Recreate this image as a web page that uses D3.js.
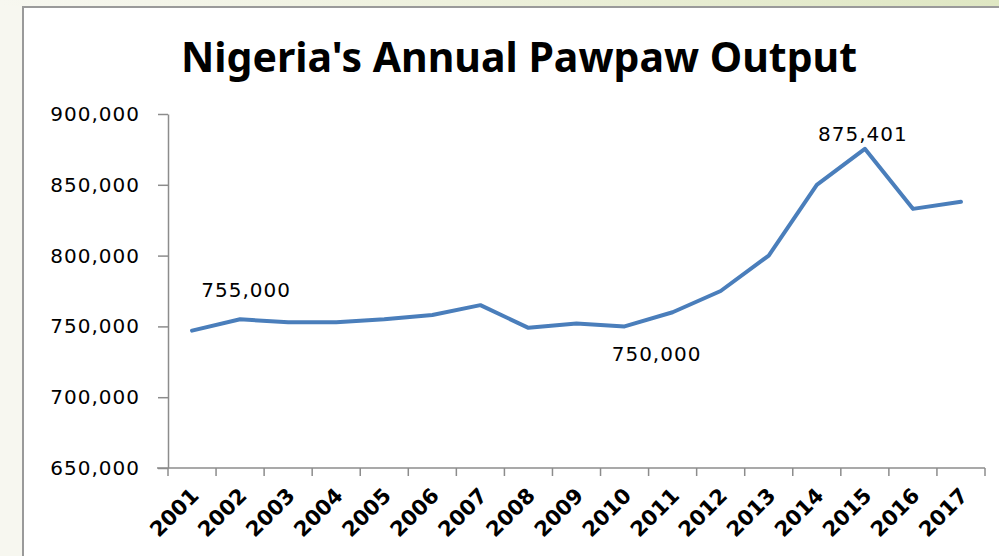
<!DOCTYPE html>
<html>
<head>
<meta charset="utf-8">
<script src="https://cdn.jsdelivr.net/npm/d3@7"></script>
<style>
  html, body { margin: 0; padding: 0; background: #f7f7f0; }
  svg { display: block; }
</style>
</head>
<body>
<svg id="chart" width="999" height="556"></svg>
<script>
'use strict';

var years = ['2001', '2002', '2003', '2004', '2005', '2006', '2007', '2008', '2009',
  '2010', '2011', '2012', '2013', '2014', '2015', '2016', '2017'];
var output = [747000, 755000, 753000, 753000, 755000, 758000, 765000, 749000, 752000,
  750000, 760000, 775000, 800000, 850000, 875401, 833000, 838000];
var yTicks = [650000, 700000, 750000, 800000, 850000, 900000];
var labelledYears = ['2002', '2010', '2015'];
var title = "Nigeria's Annual Pawpaw Output";

var W = 999, H = 556;
var svg = d3.select('#chart');

// page background + framed white chart area
var defs = svg.append('defs');
var grad = defs.append('linearGradient').attr('id', 'topStrip');
grad.append('stop').attr('offset', '0%').attr('stop-color', '#f7f7f0');
grad.append('stop').attr('offset', '45%').attr('stop-color', '#eef1dd');
grad.append('stop').attr('offset', '100%').attr('stop-color', '#dfe7c3');

svg.append('rect').attr('width', W).attr('height', H).attr('fill', '#f7f7f0');
svg.append('rect').attr('width', W).attr('height', 6).attr('fill', 'url(#topStrip)');
svg.append('rect')
  .attr('x', 22).attr('y', 6)
  .attr('width', W - 22).attr('height', H - 6)
  .attr('fill', '#ffffff');
svg.append('path')
  .attr('d', 'M23,' + H + 'V7H' + W)
  .attr('fill', 'none')
  .attr('stroke', '#9a9a9a')
  .attr('stroke-width', 2);

svg.append('text')
  .attr('x', 519).attr('y', 72)
  .attr('text-anchor', 'middle')
  .attr('font-family', '"Noto Sans", "Open Sans", sans-serif')
  .attr('font-weight', 'bold')
  .attr('font-size', 41)
  .attr('textLength', 676)
  .attr('lengthAdjust', 'spacingAndGlyphs')
  .attr('fill', '#000')
  .text(title);

var x = d3.scaleBand().domain(years).range([168, 985]).padding(0);
var y = d3.scaleLinear().domain([650000, 900000]).range([468, 114]);
var fmt = d3.format(',');
var numFont = '"DejaVu Sans", Verdana, sans-serif';
var axisColor = '#8c8c8c';

// y axis
var yAxis = svg.append('g')
  .attr('transform', 'translate(168,0)')
  .call(d3.axisLeft(y).tickValues(yTicks).tickFormat(fmt).tickSize(10).tickSizeOuter(0).tickPadding(18));
yAxis.select('.domain').attr('stroke', axisColor).attr('stroke-width', 1.5);
yAxis.selectAll('.tick line').attr('stroke', axisColor).attr('stroke-width', 1.5);
yAxis.selectAll('.tick text')
  .attr('font-family', numFont)
  .attr('font-size', 20)
  .attr('letter-spacing', '1px')
  .attr('fill', '#000');

// x axis: line, ticks between categories, rotated labels
var xAxis = svg.append('g').attr('class', 'x-axis');
xAxis.append('line')
  .attr('x1', x.range()[0] - 11).attr('x2', x.range()[1])
  .attr('y1', y(650000)).attr('y2', y(650000))
  .attr('stroke', axisColor).attr('stroke-width', 1.5);
xAxis.selectAll('line.tick')
  .data(years.map(function(d) { return x(d); }).concat([x.range()[1]]))
  .enter().append('line')
  .attr('class', 'tick')
  .attr('x1', function(d) { return d; }).attr('x2', function(d) { return d; })
  .attr('y1', y(650000)).attr('y2', y(650000) + 8)
  .attr('stroke', axisColor).attr('stroke-width', 1.5);
xAxis.selectAll('text')
  .data(years)
  .enter().append('text')
  .attr('transform', function(d) {
    return 'translate(' + (x(d) + x.bandwidth() / 2 + 8) + ',' + (y(650000) + 29) + ') rotate(-45)';
  })
  .attr('text-anchor', 'end')
  .attr('font-family', numFont)
  .attr('font-weight', 'bold')
  .attr('font-size', 21)
  .attr('fill', '#000')
  .text(function(d) { return d; });

// the series line
var points = years.map(function(d, i) { return { year: d, value: output[i] }; });
var line = d3.line()
  .x(function(d) { return x(d.year) + x.bandwidth() / 2; })
  .y(function(d) { return y(d.value); });

svg.append('path')
  .datum(points)
  .attr('d', line)
  .attr('fill', 'none')
  .attr('stroke', '#4a7ebb')
  .attr('stroke-width', 4)
  .attr('stroke-linejoin', 'round')
  .attr('stroke-linecap', 'round');

// data labels (offsets)
var labelOffset = { '2002': [6, -22], '2010': [32, 35], '2015': [-2, -8] };
svg.selectAll('text.data-label')
  .data(points.filter(function(d) { return labelledYears.indexOf(d.year) !== -1; }))
  .enter().append('text')
  .attr('class', 'data-label')
  .attr('x', function(d) { return x(d.year) + x.bandwidth() / 2 + labelOffset[d.year][0]; })
  .attr('y', function(d) { return y(d.value) + labelOffset[d.year][1]; })
  .attr('text-anchor', 'middle')
  .attr('font-family', numFont)
  .attr('font-size', 20)
  .attr('letter-spacing', '1px')
  .attr('fill', '#000')
  .text(function(d) { return fmt(d.value); });
</script>
</body>
</html>
